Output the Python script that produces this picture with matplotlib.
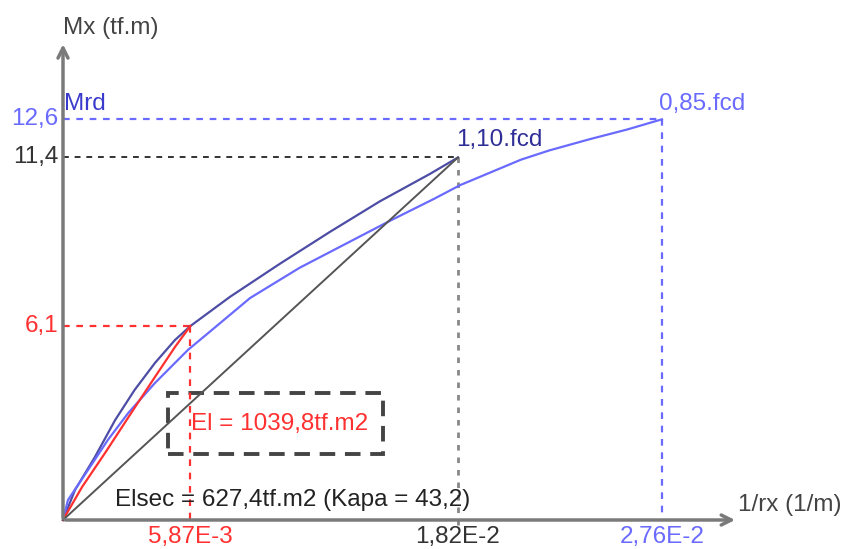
import numpy as np
import matplotlib
matplotlib.use("Agg")
import matplotlib.pyplot as plt
from matplotlib.patches import Rectangle

plt.rcParams['font.family'] = ['Liberation Sans', 'DejaVu Sans']

# key values
curv_ult_110 = 1.82e-2   # 1/rx at 1,10.fcd
curv_ult_085 = 2.76e-2   # 1/rx at 0,85.fcd
curv_el = 5.87e-3
m_rd = 12.6
m_110 = 11.4
m_el = 6.1

# 1,10.fcd curve (curvature, moment)
k_110 = [0, 0.00055, 0.00147, 0.0024, 0.0033, 0.00424, 0.00516, 0.00587,
         0.0077, 0.0100, 0.0123, 0.0146, 0.0169, 0.0182]
m_110_curve = [0, 0.94, 1.98, 3.14, 4.09, 4.94, 5.66, 6.1,
               7.02, 8.06, 9.06, 10.02, 10.88, 11.4]

# 0,85.fcd curve
k_085 = [0, 0.00023, 0.00115, 0.00207, 0.0030, 0.00424, 0.00576, 0.00687,
         0.00862, 0.0109, 0.0131, 0.0151, 0.0171, 0.0183, 0.0211, 0.0224,
         0.0243, 0.0260, 0.0276]
m_085_curve = [0, 0.63, 1.57, 2.52, 3.36, 4.31, 5.35, 5.98,
               6.98, 7.93, 8.71, 9.42, 10.10, 10.53, 11.33, 11.62,
               11.98, 12.28, 12.6]

# elastic branch (red)
k_red = [0, 0.00088, 0.00194, 0.00332, 0.00424, 0.00516, 0.00587]
m_red = [0, 1.04, 2.11, 3.55, 4.50, 5.44, 6.1]

navy = '#2e2e96'
lblue = '#6a6aff'
red = '#ff3030'
gray = '#7a7a7a'

fig = plt.figure(figsize=(8.46, 5.49), dpi=100)
ax = fig.add_axes([0, 0, 1, 1])
sx, sy = 21700.0, 31.8
ax.set_xlim(-63 / sx, (846 - 63) / sx)
ax.set_ylim(-29 / sy, 520 / sy)
ax.axis('off')

# reference dashed lines
ax.plot([0, curv_ult_085], [m_rd, m_rd], color=lblue, lw=1.6, dashes=(3, 3))
ax.plot([curv_ult_085, curv_ult_085], [m_rd, 0], color=lblue, lw=1.6, dashes=(3, 3))
ax.plot([0, curv_ult_110], [m_110, m_110], color='#333333', lw=1.4, dashes=(3, 3))
ax.plot([curv_ult_110, curv_ult_110], [m_110, -0.15], color='#888888', lw=2, dashes=(2, 2.5))
ax.plot([0, curv_el], [m_el, m_el], color=red, lw=1.6, dashes=(3, 3))
ax.plot([curv_el, curv_el], [m_el, -0.2], color=red, lw=1.6, dashes=(3, 3))

# curves
ax.plot(k_110, m_110_curve, color=navy, lw=1.6, alpha=0.85)
ax.plot(k_085, m_085_curve, color=lblue, lw=1.6)
ax.plot(k_red, m_red, color=red, lw=1.6)
ax.plot([0, curv_ult_110], [0, m_110], color='#555555', lw=1.4)

# axes with arrows
ax.annotate('', xy=(0.0311, 0), xytext=(-0.00002, 0),
            arrowprops=dict(arrowstyle='->', color=gray, lw=2.5, mutation_scale=18))
ax.annotate('', xy=(0, 15.05), xytext=(0, -0.03),
            arrowprops=dict(arrowstyle='->', color=gray, lw=2.5, mutation_scale=18))

# EI box
ax.add_patch(Rectangle((105 / sx, (520 - 454) / sy), 215 / sx, 61 / sy,
                       fill=False, edgecolor='#444444', lw=2.8, linestyle=(0, (4, 2.5))))

fs = 17.5
ax.text(0, (520 - 28) / sy, 'Mx (tf.m)', color='#444444', fontsize=fs, va='center', ha='left')
ax.text(0.00003, (520 - 104) / sy, 'Mrd', color='#3a3acc', fontsize=fs, va='center', ha='left')
ax.text(-0.00023, m_rd, '12,6', color=lblue, fontsize=fs, va='center', ha='right')
ax.text(-0.00023, m_110, '11,4', color='#333333', fontsize=fs, va='center', ha='right')
ax.text(-0.00023, m_el, '6,1', color=red, fontsize=fs, va='center', ha='right')
ax.text(curv_ult_085 - 0.00015, (520 - 104) / sy, '0,85.fcd', color=lblue, fontsize=fs,
        va='center', ha='left')
ax.text(curv_ult_110 - 0.0001, (520 - 140) / sy, '1,10.fcd', color=navy, fontsize=fs,
        va='center', ha='left')
ax.text(217 / sx, (520 - 424) / sy, 'El = 1039,8tf.m2', color=red, fontsize=fs,
        va='center', ha='center')
ax.text(52 / sx, (520 - 500) / sy, 'Elsec = 627,4tf.m2 (Kapa = 43,2)', color='#222222',
        fontsize=fs, va='center', ha='left')
ax.text(0.0311, (520 - 505) / sy, '1/rx (1/m)', color='#444444', fontsize=fs,
        va='center', ha='left')

ax.text(curv_el, -0.53, '5,87E-3', color=red, fontsize=fs, va='center', ha='center')
ax.text(curv_ult_110, -0.53, '1,82E-2', color='#333333', fontsize=fs, va='center', ha='center')
ax.text(curv_ult_085, -0.53, '2,76E-2', color=lblue, fontsize=fs, va='center', ha='center')

fig.savefig('out.png', dpi=100)
